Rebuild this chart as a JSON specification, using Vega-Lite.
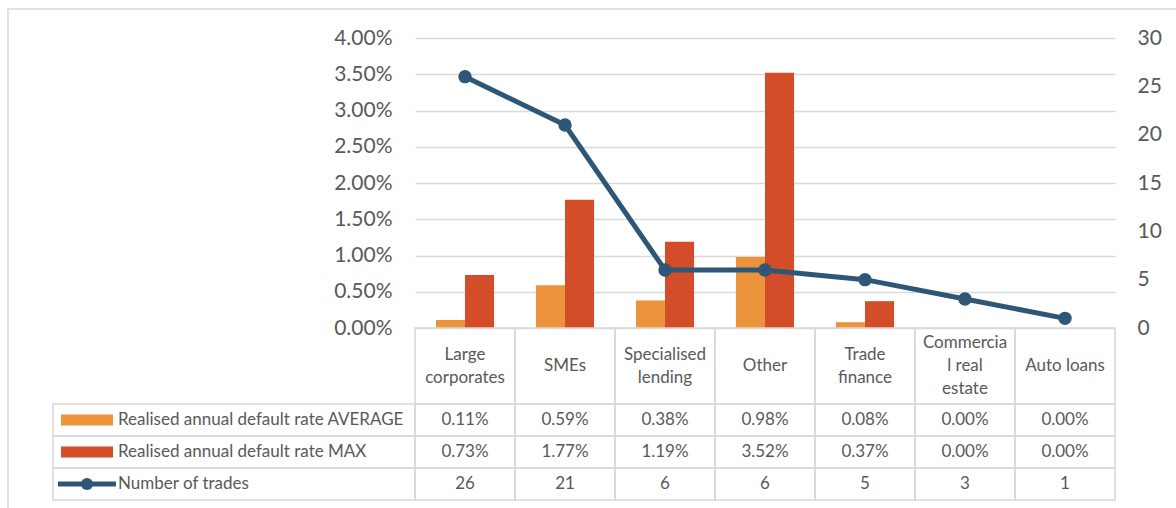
{
  "$schema": "https://vega.github.io/schema/vega-lite/v6.json",
  "width": 700,
  "height": 462,
  "autosize": {"type": "none"},
  "padding": {"left": 415, "top": 38, "right": 61, "bottom": 8},
  "background": "white",
  "config": {
    "font": "Lato",
    "view": {"stroke": null},
    "axis": {"labelColor": "#595959", "labelFont": "Lato"},
    "text": {"color": "#595959", "font": "Lato", "fontSize": 17}
  },
  "datasets": {
    "cats": [
      {"category": "Large corporates", "header": "Large\ncorporates", "avg": 0.0011, "max": 0.0073, "trades": 26},
      {"category": "SMEs", "header": "SMEs", "avg": 0.0059, "max": 0.0177, "trades": 21},
      {"category": "Specialised lending", "header": "Specialised\nlending", "avg": 0.0038, "max": 0.0119, "trades": 6},
      {"category": "Other", "header": "Other", "avg": 0.0098, "max": 0.0352, "trades": 6},
      {"category": "Trade finance", "header": "Trade\nfinance", "avg": 0.0008, "max": 0.0037, "trades": 5},
      {"category": "Commercial real estate", "header": "Commercia\nl real\nestate", "avg": 0, "max": 0, "trades": 3},
      {"category": "Auto loans", "header": "Auto loans", "avg": 0, "max": 0, "trades": 1}
    ],
    "rows": [
      {"series": "avg", "label": "Realised annual default rate AVERAGE"},
      {"series": "max", "label": "Realised annual default rate MAX"},
      {"series": "trades", "label": "Number of trades"}
    ],
    "frame": [{"name": "area"}]
  },
  "resolve": {
    "scale": {"x": "independent", "y": "independent", "color": "independent", "xOffset": "independent"},
    "axis": {"x": "independent", "y": "independent"}
  },
  "layer": [
    {
      "data": {"name": "frame"},
      "mark": {"type": "rect", "fill": "transparent", "stroke": "#d9d9d9", "strokeWidth": 1.5},
      "encoding": {
        "x": {"datum": "area", "type": "nominal", "scale": {"domain": ["area"], "range": [-407, 780], "paddingInner": 0, "paddingOuter": 0}, "axis": null},
        "y": {"datum": "area", "type": "nominal", "scale": {"domain": ["area"], "range": [-29, 480], "paddingInner": 0, "paddingOuter": 0}, "axis": null}
      }
    },
    {
      "data": {"name": "cats"},
      "transform": [{"fold": ["avg", "max"], "as": ["series", "value"]}],
      "mark": {"type": "bar"},
      "encoding": {
        "x": {"field": "category", "type": "nominal", "sort": null, "scale": {"domain": ["Large corporates", "SMEs", "Specialised lending", "Other", "Trade finance", "Commercial real estate", "Auto loans"], "paddingInner": 0, "paddingOuter": 0}, "axis": null},
        "xOffset": {"field": "series", "type": "nominal", "scale": {"domain": ["avg", "max"], "paddingInner": 0, "paddingOuter": 0.72}},
        "y": {"field": "value", "type": "quantitative", "scale": {"domain": [0, 0.04], "range": [290, 0], "nice": false},
          "axis": {"orient": "left", "values": [0, 0.005, 0.01, 0.015, 0.02, 0.025, 0.03, 0.035, 0.04], "format": ".2%", "grid": true, "gridColor": "#d9d9d9", "gridWidth": 1.3, "domain": false, "ticks": false, "labelPadding": 23, "labelFontSize": 21, "title": null}},
        "color": {"field": "series", "type": "nominal", "scale": {"domain": ["avg", "max"], "range": ["#EC943B", "#D24D28"]}, "legend": null}
      }
    },
    {
      "data": {"name": "cats"},
      "mark": {"type": "line", "color": "#2D5677", "strokeWidth": 5, "point": {"filled": true, "size": 180, "color": "#2D5677"}},
      "encoding": {
        "x": {"field": "category", "type": "nominal", "sort": null, "scale": {"domain": ["Large corporates", "SMEs", "Specialised lending", "Other", "Trade finance", "Commercial real estate", "Auto loans"], "paddingInner": 0, "paddingOuter": 0}, "axis": null},
        "y": {"field": "trades", "type": "quantitative", "scale": {"domain": [0, 30], "range": [290, 0], "nice": false},
          "axis": {"orient": "right", "values": [0, 5, 10, 15, 20, 25, 30], "grid": false, "domain": false, "ticks": false, "labelPadding": 22, "labelFontSize": 21, "title": null}}
      }
    },
    {
      "data": {"name": "cats"},
      "mark": {"type": "rect", "fill": "transparent", "stroke": "#d9d9d9", "strokeWidth": 1.6},
      "encoding": {
        "x": {"field": "category", "type": "nominal", "sort": null, "scale": {"domain": ["Large corporates", "SMEs", "Specialised lending", "Other", "Trade finance", "Commercial real estate", "Auto loans"], "paddingInner": 0, "paddingOuter": 0}, "axis": null},
        "y": {"datum": "header", "type": "nominal", "scale": {"domain": ["header"], "range": [290, 366], "paddingInner": 0, "paddingOuter": 0}, "axis": null}
      }
    },
    {
      "data": {"name": "cats"},
      "transform": [{"filter": "indexof(datum.header, '\\n') < 0"}],
      "mark": {"type": "text", "baseline": "middle", "align": "center"},
      "encoding": {
        "x": {"field": "category", "type": "nominal", "sort": null, "scale": {"domain": ["Large corporates", "SMEs", "Specialised lending", "Other", "Trade finance", "Commercial real estate", "Auto loans"], "paddingInner": 0, "paddingOuter": 0}, "axis": null},
        "y": {"datum": "header", "type": "nominal", "scale": {"domain": ["header"], "range": [290, 366], "paddingInner": 0, "paddingOuter": 0}, "axis": null},
        "text": {"field": "header"}
      }
    },
    {
      "data": {"name": "cats"},
      "transform": [{"filter": "indexof(datum.header, '\\n') >= 0 && indexof(datum.header, '\\n') == lastindexof(datum.header, '\\n')"}],
      "mark": {"type": "text", "lineBreak": "\n", "lineHeight": 23, "baseline": "middle", "align": "center", "dy": -11.5},
      "encoding": {
        "x": {"field": "category", "type": "nominal", "sort": null, "scale": {"domain": ["Large corporates", "SMEs", "Specialised lending", "Other", "Trade finance", "Commercial real estate", "Auto loans"], "paddingInner": 0, "paddingOuter": 0}, "axis": null},
        "y": {"datum": "header", "type": "nominal", "scale": {"domain": ["header"], "range": [290, 366], "paddingInner": 0, "paddingOuter": 0}, "axis": null},
        "text": {"field": "header"}
      }
    },
    {
      "data": {"name": "cats"},
      "transform": [{"filter": "indexof(datum.header, '\\n') >= 0 && indexof(datum.header, '\\n') != lastindexof(datum.header, '\\n')"}],
      "mark": {"type": "text", "lineBreak": "\n", "lineHeight": 23, "baseline": "middle", "align": "center", "dy": -23},
      "encoding": {
        "x": {"field": "category", "type": "nominal", "sort": null, "scale": {"domain": ["Large corporates", "SMEs", "Specialised lending", "Other", "Trade finance", "Commercial real estate", "Auto loans"], "paddingInner": 0, "paddingOuter": 0}, "axis": null},
        "y": {"datum": "header", "type": "nominal", "scale": {"domain": ["header"], "range": [290, 366], "paddingInner": 0, "paddingOuter": 0}, "axis": null},
        "text": {"field": "header"}
      }
    },
    {
      "data": {"name": "cats"},
      "transform": [{"fold": ["avg", "max", "trades"], "as": ["series", "value"]}],
      "mark": {"type": "rect", "fill": "transparent", "stroke": "#d9d9d9", "strokeWidth": 1.6},
      "encoding": {
        "x": {"field": "category", "type": "nominal", "sort": null, "scale": {"domain": ["Large corporates", "SMEs", "Specialised lending", "Other", "Trade finance", "Commercial real estate", "Auto loans"], "paddingInner": 0, "paddingOuter": 0}, "axis": null},
        "y": {"field": "series", "type": "nominal", "scale": {"domain": ["avg", "max", "trades"], "range": [366, 462], "paddingInner": 0, "paddingOuter": 0}, "axis": null}
      }
    },
    {
      "data": {"name": "cats"},
      "transform": [{"fold": ["avg", "max"], "as": ["series", "value"]}],
      "mark": {"type": "text", "baseline": "middle", "align": "center"},
      "encoding": {
        "x": {"field": "category", "type": "nominal", "sort": null, "scale": {"domain": ["Large corporates", "SMEs", "Specialised lending", "Other", "Trade finance", "Commercial real estate", "Auto loans"], "paddingInner": 0, "paddingOuter": 0}, "axis": null},
        "y": {"field": "series", "type": "nominal", "scale": {"domain": ["avg", "max", "trades"], "range": [366, 462], "paddingInner": 0, "paddingOuter": 0}, "axis": null},
        "text": {"field": "value", "type": "quantitative", "format": ".2%"}
      }
    },
    {
      "data": {"name": "cats"},
      "mark": {"type": "text", "baseline": "middle", "align": "center"},
      "encoding": {
        "x": {"field": "category", "type": "nominal", "sort": null, "scale": {"domain": ["Large corporates", "SMEs", "Specialised lending", "Other", "Trade finance", "Commercial real estate", "Auto loans"], "paddingInner": 0, "paddingOuter": 0}, "axis": null},
        "y": {"datum": "trades", "type": "nominal", "scale": {"domain": ["avg", "max", "trades"], "range": [366, 462], "paddingInner": 0, "paddingOuter": 0}, "axis": null},
        "text": {"field": "trades", "type": "quantitative", "format": "d"}
      }
    },
    {
      "data": {"name": "rows"},
      "mark": {"type": "rect", "fill": "transparent", "stroke": "#d9d9d9", "strokeWidth": 1.6},
      "encoding": {
        "x": {"datum": "labels", "type": "nominal", "scale": {"domain": ["labels"], "range": [-362, 0], "paddingInner": 0, "paddingOuter": 0}, "axis": null},
        "y": {"field": "series", "type": "nominal", "scale": {"domain": ["avg", "max", "trades"], "range": [366, 462], "paddingInner": 0, "paddingOuter": 0}, "axis": null}
      }
    },
    {
      "data": {"name": "rows"},
      "mark": {"type": "text", "baseline": "middle", "align": "left", "dx": -116},
      "encoding": {
        "x": {"datum": "labels", "type": "nominal", "scale": {"domain": ["labels"], "range": [-362, 0], "paddingInner": 0, "paddingOuter": 0}, "axis": null},
        "y": {"field": "series", "type": "nominal", "scale": {"domain": ["avg", "max", "trades"], "range": [366, 462], "paddingInner": 0, "paddingOuter": 0}, "axis": null},
        "text": {"field": "label"}
      }
    },
    {
      "data": {"name": "rows"},
      "transform": [{"filter": "datum.series != 'trades'"}],
      "mark": {"type": "point", "shape": "M-5.2,-1.1H5.2V1.1H-5.2Z", "size": 100, "filled": true, "opacity": 1, "xOffset": -147},
      "encoding": {
        "x": {"datum": "labels", "type": "nominal", "scale": {"domain": ["labels"], "range": [-362, 0], "paddingInner": 0, "paddingOuter": 0}, "axis": null},
        "y": {"field": "series", "type": "nominal", "scale": {"domain": ["avg", "max", "trades"], "range": [366, 462], "paddingInner": 0, "paddingOuter": 0}, "axis": null},
        "color": {"field": "series", "type": "nominal", "scale": {"domain": ["avg", "max"], "range": ["#EC943B", "#D24D28"]}, "legend": null}
      }
    },
    {
      "data": {"name": "rows"},
      "transform": [{"filter": "datum.series == 'trades'"}],
      "mark": {"type": "point", "shape": "M-5.8,-0.5H5.8V0.5H-5.8Z", "size": 100, "filled": true, "opacity": 1, "color": "#2D5677", "xOffset": -147},
      "encoding": {
        "x": {"datum": "labels", "type": "nominal", "scale": {"domain": ["labels"], "range": [-362, 0], "paddingInner": 0, "paddingOuter": 0}, "axis": null},
        "y": {"field": "series", "type": "nominal", "scale": {"domain": ["avg", "max", "trades"], "range": [366, 462], "paddingInner": 0, "paddingOuter": 0}, "axis": null}
      }
    },
    {
      "data": {"name": "rows"},
      "transform": [{"filter": "datum.series == 'trades'"}],
      "mark": {"type": "point", "shape": "circle", "size": 150, "filled": true, "opacity": 1, "color": "#2D5677", "xOffset": -147},
      "encoding": {
        "x": {"datum": "labels", "type": "nominal", "scale": {"domain": ["labels"], "range": [-362, 0], "paddingInner": 0, "paddingOuter": 0}, "axis": null},
        "y": {"field": "series", "type": "nominal", "scale": {"domain": ["avg", "max", "trades"], "range": [366, 462], "paddingInner": 0, "paddingOuter": 0}, "axis": null}
      }
    }
  ]
}
